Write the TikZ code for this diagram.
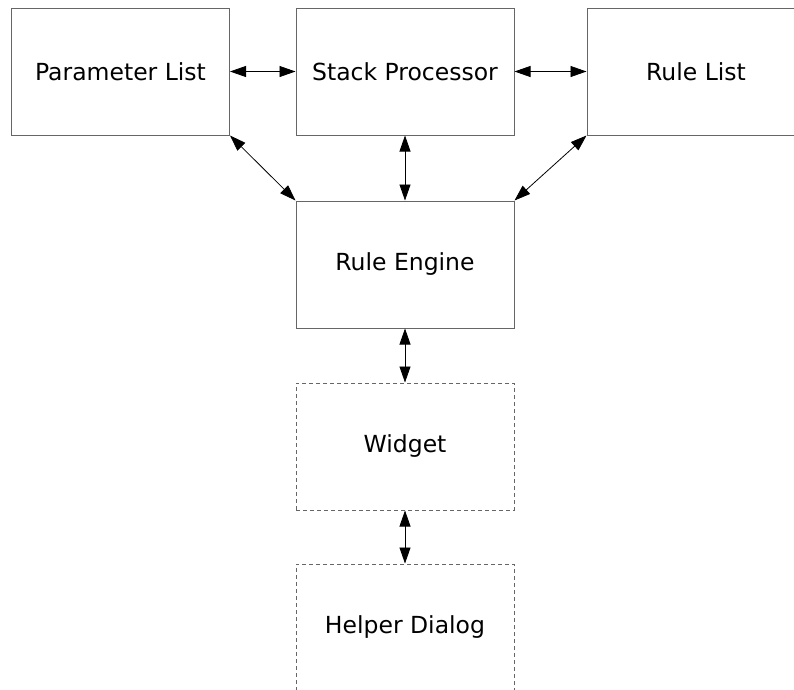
\documentclass[tikz,border=0pt]{standalone}
\usepackage{fontspec}
\setmainfont{DejaVu Sans}
\usetikzlibrary{arrows.meta}

\begin{document}
\begin{tikzpicture}[x=1pt, y=-1pt,
  box/.style={draw=black!60, line width=1pt, minimum width=218pt, minimum height=127pt,
    inner sep=0pt, font=\fontsize{23.5}{28}\selectfont},
  dashbox/.style={box, dash pattern=on 4pt off 3pt},
  link/.style={{Triangle[length=16pt,width=11pt]}-{Triangle[length=16pt,width=11pt]}, line width=0.8pt}]

% Fix the page size
\useasboundingbox (0,0) rectangle (794,689);
\clip (0,0) rectangle (794,689);

% Top row
\node[box] (param) at (120.5,71.5) {Parameter List};
\node[box] (stack) at (405,71.5) {Stack Processor};
\node[box] (rules) at (696,71.5) {Rule List};

% Middle column
\node[box] (engine) at (405,264.5) {Rule Engine};
\node[dashbox] (widget) at (405,446.5) {Widget};
\node[dashbox] (helper) at (405,627.5) {Helper Dialog};

% Links between the top row
\draw[link] (param) -- (stack);
\draw[link] (stack) -- (rules);

% Links down to the engine
\draw[link] (param.south east) -- (engine.north west);
\draw[link] (stack) -- (engine);
\draw[link] (rules.south west) -- (engine.north east);

% Links down the column
\draw[link] (engine) -- (widget);
\draw[link] (widget) -- (helper);

\end{tikzpicture}
\end{document}
